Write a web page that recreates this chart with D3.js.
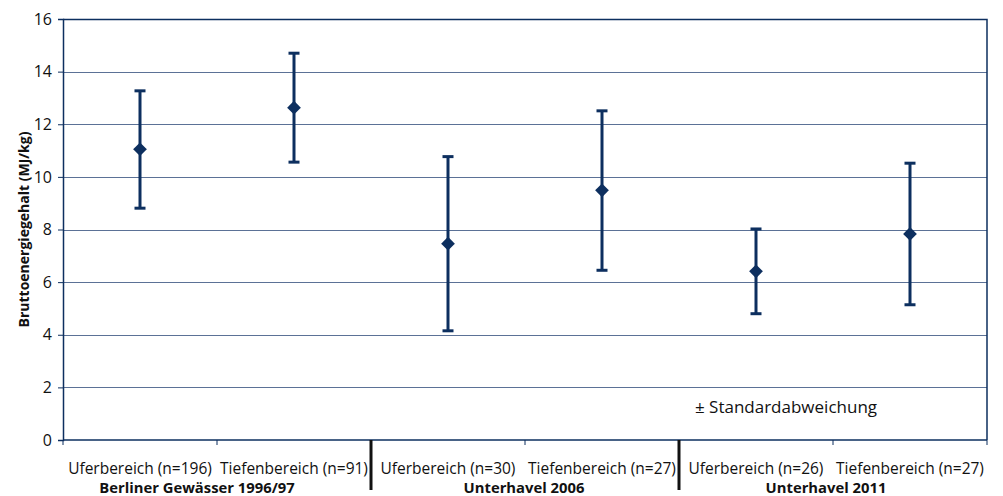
<!DOCTYPE html>
<meta charset="utf-8">
<script src="https://d3js.org/d3.v7.min.js"></script>
<style>
  body { margin: 0; background: #fff; }
  text { font-family: "Open Sans", "Noto Sans", sans-serif; }
</style>
<body>
<div id="chart"></div>
<script>

// data
var categories = ["Uferbereich (n=196)", "Tiefenbereich (n=91)", "Uferbereich (n=30)",
                  "Tiefenbereich (n=27)", "Uferbereich (n=26)", "Tiefenbereich (n=27)"]
var groups = ["Berliner Gewässer 1996/97", "Unterhavel 2006", "Unterhavel 2011"]
var means = [11.05, 12.63, 7.46, 9.49, 6.41, 7.83]
var upper = [13.27, 14.70, 10.77, 12.51, 8.02, 10.52]
var lower = [8.81, 10.56, 4.15, 6.45, 4.80, 5.14]
var yTicks = [0, 2, 4, 6, 8, 10, 12, 14, 16]

var width = 1003, height = 496
var margin = {top: 19, right: 16, bottom: 56, left: 63}
var navy = "#0d2f5f"
// group titles are not exactly centred under their pair in the original
var groupShift = [-20, -1, -7]

var svg = d3.select("#chart").append("svg")
  .attr("width", width)
  .attr("height", height)

var x = d3.scaleBand()
  .domain(d3.range(categories.length))
  .range([margin.left, width - margin.right])
  .padding(0)

var y = d3.scaleLinear()
  .domain([0, 16])
  .range([height - margin.bottom, margin.top])

// gridlines
svg.append("g")
  .selectAll("line")
  .data(yTicks.slice(1, -1))
  .enter().append("line")
    .attr("x1", margin.left)
    .attr("x2", width - margin.right)
    .attr("y1", function(d) { return Math.round(y(d)) + 0.5 })
    .attr("y2", function(d) { return Math.round(y(d)) + 0.5 })
    .attr("stroke", "#5b7196")
    .attr("stroke-width", 1)

// top and right border
svg.append("path")
  .attr("d", "M" + margin.left + "," + (y(16) + 0.5) + "H" + (width - margin.right) + "V" + y(0))
  .attr("fill", "none")
  .attr("stroke", navy)
  .attr("stroke-width", 1.5)

// y axis
var yAxis = svg.append("g")
  .attr("transform", "translate(" + margin.left + ",0)")
  .call(d3.axisLeft(y).tickValues(yTicks).tickSize(5).tickPadding(6))
yAxis.select(".domain").attr("stroke", navy).attr("stroke-width", 1.5)
yAxis.selectAll(".tick line").attr("stroke", navy)
yAxis.selectAll("text")
  .style("font-family", "Open Sans")
  .style("font-size", "16px")
  .attr("fill", "#111")

svg.append("text")
  .attr("transform", "translate(29," + ((margin.top + height - margin.bottom) / 2) + ") rotate(-90)")
  .attr("text-anchor", "middle")
  .style("font-size", "14px")
  .style("font-weight", "bold")
  .attr("fill", "#111")
  .text("Bruttoenergiegehalt (MJ/kg)")

// x axis line and ticks at category boundaries
svg.append("line")
  .attr("x1", margin.left).attr("x2", width - margin.right)
  .attr("y1", y(0)).attr("y2", y(0))
  .attr("stroke", navy).attr("stroke-width", 1.5)

var bounds = d3.range(categories.length + 1).map(function(i) {
  return i < categories.length ? x(i) : x.range()[1]
})
svg.append("g")
  .selectAll("line")
  .data(bounds)
  .enter().append("line")
    .attr("x1", function(d) { return d })
    .attr("x2", function(d) { return d })
    .attr("y1", y(0))
    .attr("y2", function(d, i) { return (i == 2 || i == 4) ? y(0) + 50 : y(0) + 5 })
    .attr("stroke", function(d, i) { return (i == 2 || i == 4) ? "#111" : navy })
    .attr("stroke-width", function(d, i) { return (i == 2 || i == 4) ? 3 : 1 })

svg.append("g")
  .selectAll("text")
  .data(categories)
  .enter().append("text")
    .attr("x", function(d, i) { return x(i) + x.bandwidth() / 2 })
    .attr("y", y(0) + 34)
    .attr("text-anchor", "middle")
    .style("font-size", "15.5px")
    .attr("fill", "#111")
    .text(function(d) { return d })

svg.append("g")
  .selectAll("text")
  .data(groups)
  .enter().append("text")
    .attr("x", function(d, i) { return x(i * 2) + x.bandwidth() + groupShift[i] })
    .attr("y", y(0) + 52.5)
    .attr("text-anchor", "middle")
    .style("font-size", "14.8px")
    .style("font-weight", "bold")
    .attr("fill", "#111")
    .text(function(d) { return d })

// error bars
var cx = function(i) { return x(i) + x.bandwidth() / 2 }
var bars = svg.append("g")
  .selectAll("g")
  .data(means)
  .enter().append("g")

bars.append("line")
  .attr("x1", function(d, i) { return cx(i) })
  .attr("x2", function(d, i) { return cx(i) })
  .attr("y1", function(d, i) { return y(upper[i]) })
  .attr("y2", function(d, i) { return y(lower[i]) })
  .attr("stroke", navy).attr("stroke-width", 3)

bars.append("line")
  .attr("x1", function(d, i) { return cx(i) - 5.5 })
  .attr("x2", function(d, i) { return cx(i) + 5.5 })
  .attr("y1", function(d, i) { return y(upper[i]) })
  .attr("y2", function(d, i) { return y(upper[i]) })
  .attr("stroke", navy).attr("stroke-width", 3)

bars.append("line")
  .attr("x1", function(d, i) { return cx(i) - 5.5 })
  .attr("x2", function(d, i) { return cx(i) + 5.5 })
  .attr("y1", function(d, i) { return y(lower[i]) })
  .attr("y2", function(d, i) { return y(lower[i]) })
  .attr("stroke", navy).attr("stroke-width", 3)

bars.append("path")
  .attr("d", d3.symbol().type(d3.symbolDiamond2).size(120))
  .attr("transform", function(d, i) { return "translate(" + cx(i) + "," + y(d) + ")" })
  .attr("fill", navy)

// legend note
svg.append("text")
  .attr("x", 786)
  .attr("y", 413)
  .attr("text-anchor", "middle")
  .style("font-size", "17px")
  .attr("fill", "#111")
  .text("± Standardabweichung")

</script>
</body>
